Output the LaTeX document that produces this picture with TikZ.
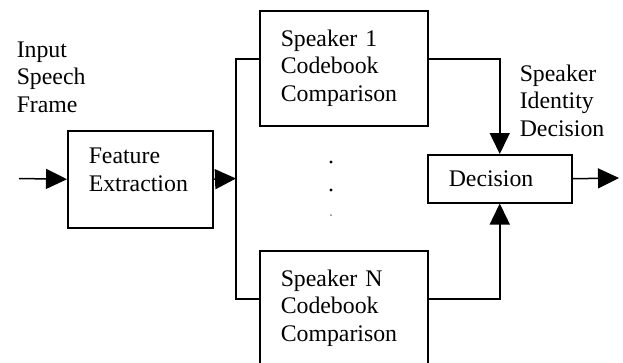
\documentclass[tikz,border=0pt]{standalone}
\usepackage{fontspec}
\setmainfont{Liberation Serif}
\usetikzlibrary{arrows.meta, positioning}

\begin{document}
\begin{tikzpicture}[x=1pt, y=-1pt, >={Triangle[length=21pt, width=20pt]}, line width=1.5pt,
    every node/.style={font=\fontsize{23.8}{27.5}\selectfont},
    block/.style={draw, align=left, inner xsep=21pt, inner ysep=0pt, anchor=north west},
    note/.style={align=left, inner sep=0pt, anchor=north west}]
    \useasboundingbox (0,0) rectangle (623,362);
    \clip (0,0) rectangle (623,362);

    % Nodes
    \node[block, text width=103pt, minimum height=97pt] (feat) at (67,130) {Feature\\Extraction\rule[-19pt]{0pt}{19pt}};
    \node[block, text width=126pt, minimum height=115pt] (spk1) at (259,10) {Speaker 1\\Codebook\\Comparison};
    \node[block, text width=126pt, minimum height=115pt] (spkN) at (259,250) {Speaker N\\Codebook\\Comparison};
    \node[block, text width=102pt, minimum height=48pt] (dec) at (427,154) {Decision};

    \node[note] (input) at (16,41) {Input\\Speech\\Frame};
    \node[note] (ident) at (519,64) {Speaker\\Identity\\Decision};

    \coordinate (speech) at (19,178.5);
    \coordinate (split) at (236,178.5);
    \coordinate (result) at (619,178);

    % Arrows
    \draw[->] (speech) -- (feat.west);
    \draw[->] (feat.east) -- (split);
    \draw (split) |- ([yshift=9.5pt]spk1.west);
    \draw (split) |- ([yshift=9.5pt]spkN.west);
    \draw[->] ([yshift=9.5pt]spk1.east) -| (dec.north);
    \draw[->] ([yshift=9.5pt]spkN.east) -| (dec.south);
    \draw[->] (dec.east) -- (result);

    % Dots between the speakers
    \fill (331,162) circle (1.6pt);
    \fill (331,190) circle (1.6pt);
    \fill[gray] (331,215) circle (1pt);
\end{tikzpicture}
\end{document}
